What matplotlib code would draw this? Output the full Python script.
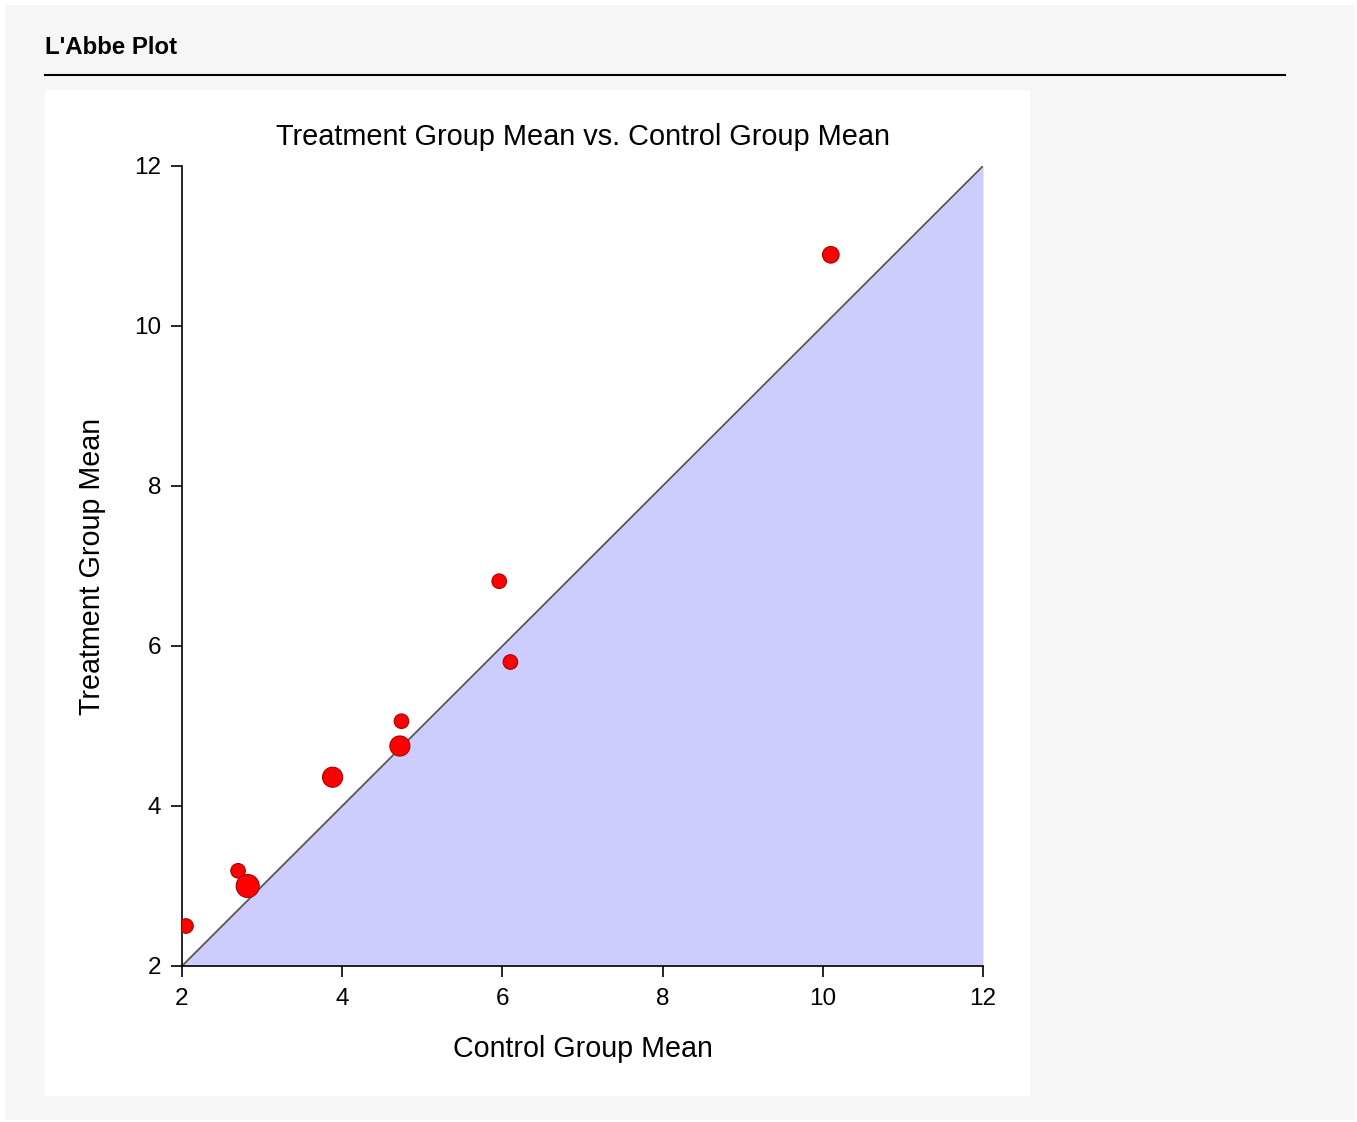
import numpy as np
import matplotlib.pyplot as plt
from matplotlib.patches import Rectangle

plt.rcParams['font.family'] = ['Liberation Sans', 'DejaVu Sans']

# study means
control_mean = [2.05, 2.70, 2.82, 3.88, 4.74, 4.72, 5.96, 6.10, 10.10]
treatment_mean = [2.50, 3.19, 3.00, 4.36, 5.06, 4.75, 6.81, 5.80, 10.89]
# relative study weight (marker size)
study_weight = [1.0, 1.0, 2.5, 1.9, 1.0, 1.9, 1.0, 1.0, 1.3]

ticks = [2, 4, 6, 8, 10, 12]

fig = plt.figure(figsize=(13.57, 11.22), dpi=100)
fig.patch.set_facecolor('white')

# page background and white chart panel
fig.patches.append(Rectangle((5/1357, 2/1122), 1350/1357, 1115/1122,
                             transform=fig.transFigure, facecolor='#f6f6f6',
                             edgecolor='none', zorder=0))
fig.patches.append(Rectangle((45/1357, 1 - 1096/1122), 985/1357, 1006/1122,
                             transform=fig.transFigure, facecolor='white',
                             edgecolor='none', zorder=1))
fig.text(45/1357, 1 - 48/1122, "L'Abbe Plot", fontsize=17.3, fontweight='bold',
         va='center', ha='left')
fig.add_artist(plt.Line2D([45/1357, 1285/1357], [1 - 75/1122, 1 - 75/1122],
                          transform=fig.transFigure, color='black', lw=1.5))

ax = fig.add_axes([182/1357, 1 - 966/1122, 801/1357, 800/1122])
ax.set_zorder(5)
ax.set_facecolor('none')

ax.fill_between([2, 12], [2, 12], [2, 2], color='#ccccff', lw=0)
ax.plot([2, 12], [2, 12], color='#555555', lw=1.3)

sizes = [110 * w for w in study_weight]
ax.scatter(control_mean, treatment_mean, s=sizes, color='#ff0000',
           edgecolors='#aa0000', linewidths=0.8, zorder=3)

ax.set_xlim(2, 12)
ax.set_ylim(2, 12)
ax.set_xticks(ticks)
ax.set_yticks(ticks)
ax.spines['top'].set_visible(False)
ax.spines['right'].set_visible(False)
ax.spines['left'].set_linewidth(1.2)
ax.spines['bottom'].set_linewidth(1.2)
ax.tick_params(length=8, width=1.2, labelsize=17.5)
ax.tick_params(axis='y', pad=7)
ax.tick_params(axis='x', pad=8)

ax.set_title('Treatment Group Mean vs. Control Group Mean', fontsize=20.8, pad=15)
ax.set_xlabel('Control Group Mean', fontsize=20.6, labelpad=18)
ax.set_ylabel('Treatment Group Mean', fontsize=20.6, labelpad=20)

fig.savefig('out.png', dpi=100)
